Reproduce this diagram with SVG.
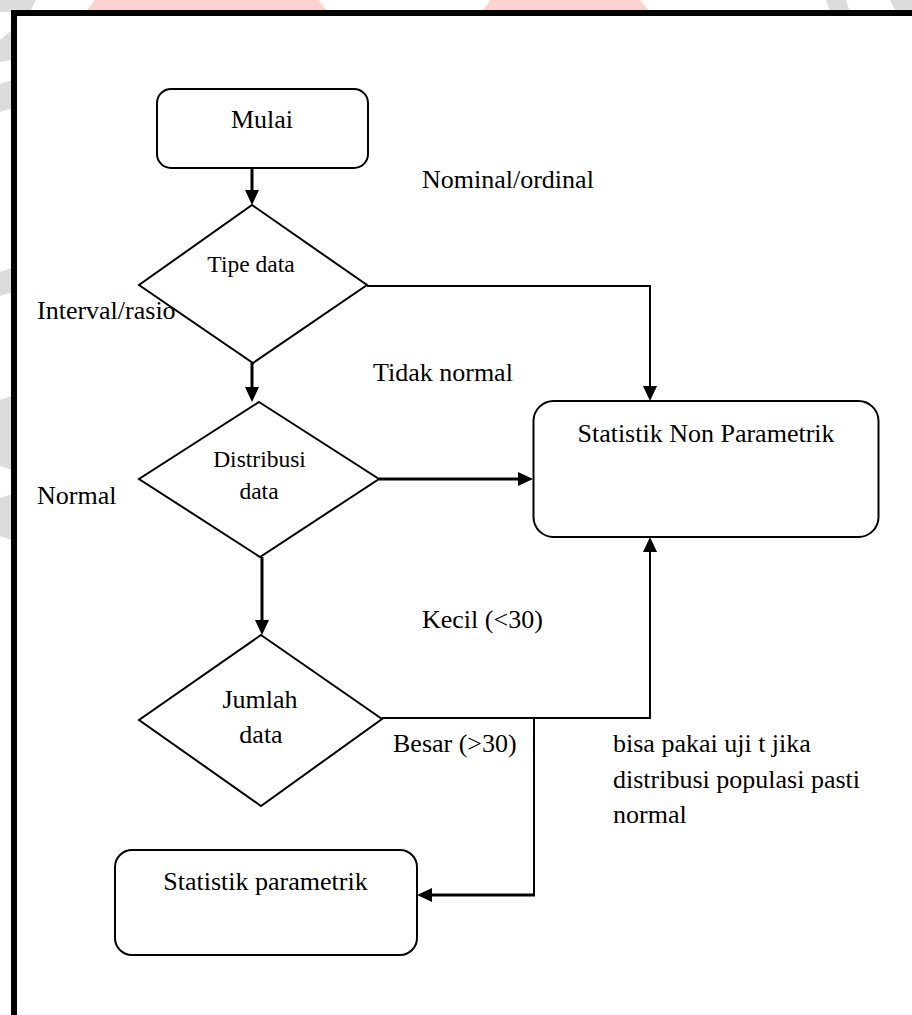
<svg xmlns="http://www.w3.org/2000/svg" width="912" height="1015" viewBox="0 0 912 1015">
<style>
.node{fill:#fff;stroke:#000;stroke-width:2}
.t{font-family:"Liberation Serif","Times New Roman",serif;font-size:26px;fill:#000}
.ts{font-size:23.5px}
.c{text-anchor:middle}
.ln{fill:none;stroke:#000;stroke-width:2}
.lt{fill:none;stroke:#000;stroke-width:3}
.wm1{fill:#ffd2d2}
.wm2{fill:#dcdcdc}
</style>
<defs>
<marker id="ah" markerUnits="userSpaceOnUse" markerWidth="16" markerHeight="14" refX="10" refY="7" orient="auto">
<path d="M0,0 L15,7 L0,14 Z" fill="#000"/>
</marker>
</defs>
<rect x="0" y="0" width="912" height="1015" fill="#fff"/>
<g id="watermark">
<polygon class="wm1" points="95,0 318,0 328,12 85,12"/>
<polygon class="wm1" points="490,0 640,0 650,12 482,12"/>
<polygon class="wm2" points="0,0 36,0 30,12 0,12"/>
<polygon class="wm2" points="826,0 846,0 850,12 830,12"/>
<polygon class="wm2" points="890,0 912,0 912,12 896,12"/>
<polygon class="wm2" points="0,40 12,30 12,60 0,62"/>
<polygon class="wm2" points="0,84 12,80 12,108 0,112"/>
<polygon class="wm2" points="0,272 12,268 12,292 0,296"/>
<polygon class="wm2" points="0,400 12,396 12,470 0,466"/>
<polygon class="wm2" points="0,498 12,494 12,540 0,536"/>
</g>
<rect x="17" y="16" width="895" height="999" fill="#fff"/>
<path d="M14,1015 V13 H912" fill="none" stroke="#000" stroke-width="6"/>
<g id="labels">
<text class="t" x="422" y="188">Nominal/ordinal</text>
<text class="t" x="37" y="319">Interval/rasio</text>
<text class="t" x="373" y="381">Tidak normal</text>
<text class="t" x="37" y="504">Normal</text>
<text class="t" x="422" y="628">Kecil (&lt;30)</text>
<text class="t" x="393" y="752">Besar (&gt;30)</text>
<text class="t" x="613" y="752">bisa pakai uji t jika</text>
<text class="t" x="613" y="788">distribusi populasi pasti</text>
<text class="t" x="613" y="823">normal</text>
</g>
<g id="connectors">
<path class="lt" d="M252,168 V200" marker-end="url(#ah)"/>
<path class="ln" d="M367,286 H650 V396" marker-end="url(#ah)"/>
<path class="lt" d="M252,363 V397" marker-end="url(#ah)"/>
<path class="lt" d="M379,479 H528" marker-end="url(#ah)"/>
<path class="lt" d="M262,557 V630" marker-end="url(#ah)"/>
<path class="ln" d="M382,718 H650 V542" marker-end="url(#ah)"/>
<path class="ln" d="M534,718 V895"/>
<path class="lt" d="M535,895 H422" marker-end="url(#ah)"/>
</g>
<g id="mulai">
<rect class="node" x="157" y="89" width="211" height="79" rx="14"/>
<text class="t c" x="262" y="128">Mulai</text>
</g>
<g id="tipe-data">
<polygon class="node" points="252,205 367,285 253,363 139,285"/>
<text class="t ts c" x="251" y="272">Tipe data</text>
</g>
<g id="distribusi-data">
<polygon class="node" points="259,402 379,479 260,557 139,479"/>
<text class="t ts c" x="259.5" y="467">Distribusi</text>
<text class="t ts c" x="259" y="499">data</text>
</g>
<g id="jumlah-data">
<polygon class="node" points="261,635 382,719 261,806 139,720"/>
<text class="t c" x="260" y="708">Jumlah</text>
<text class="t c" x="261" y="743">data</text>
</g>
<g id="non-parametrik">
<rect class="node" x="533.5" y="401" width="345" height="136" rx="20"/>
<text class="t c" x="706" y="442">Statistik Non Parametrik</text>
</g>
<g id="parametrik">
<rect class="node" x="115" y="850" width="302" height="105" rx="17"/>
<text class="t c" x="265.5" y="890">Statistik parametrik</text>
</g>
</svg>
